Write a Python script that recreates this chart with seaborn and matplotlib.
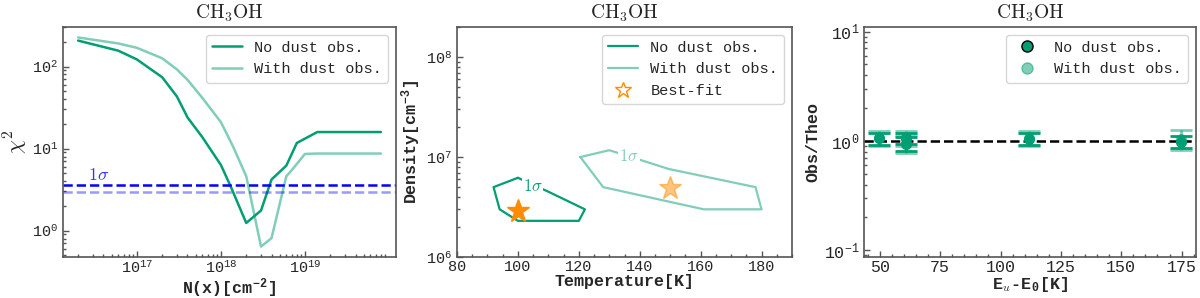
import numpy as np
import matplotlib
matplotlib.use("Agg")
import matplotlib.pyplot as plt
from matplotlib.lines import Line2D
from matplotlib.ticker import MultipleLocator
import seaborn as sns

# valeurs
col_dark = [2e16, 6e16, 1e17, 2e17, 3e17, 4e17, 6e17, 1e18, 1.3e18, 2e18, 3e18, 4e18, 6e18, 8e18, 1.4e19, 8e19]
chi2_dark = [207, 156, 122, 74, 43, 24, 13.8, 6.3, 3.5, 1.24, 1.76, 4.2, 6.2, 11.7, 15.9, 15.9]
col_light = [2e16, 6e16, 1e17, 2e17, 3e17, 4e17, 6e17, 1e18, 1.4e18, 2e18, 3e18, 4e18, 6e18, 7e18, 1e19, 1.4e19, 8e19]
chi2_light = [226, 191, 169, 126, 92, 69, 41.5, 21, 10.5, 4.6, 0.64, 0.81, 4.6, 5.5, 8.6, 8.7, 8.7]
sigma1_dark = 3.6
sigma1_light = 2.95

# contours 1 sigma (T, densite)
cont_T_dark = [100, 92, 94, 100, 120, 122, 110, 100]
cont_n_dark = [6.2e6, 5.0e6, 3.0e6, 2.3e6, 2.3e6, 3.0e6, 4.5e6, 6.2e6]
cont_T_light = [120.5, 130, 140, 149.5, 178, 180, 161, 128, 120.5]
cont_n_light = [1.0e7, 1.17e7, 9.4e6, 7.6e6, 5.0e6, 3.0e6, 3.0e6, 5.0e6, 1.0e7]
best_T = [100, 150]
best_n = [2.9e6, 4.9e6]

# rapports obs/theo
eu_dark = [49.7, 60.9, 60.9, 111.8, 174.7]
ratio_dark = [1.056, 1.056, 0.945, 1.05, 0.985]
err_dark = [0.135, 0.12, 0.135, 0.14, 0.125]
eu_light = [49.7, 60.9, 60.9, 111.8, 174.7]
ratio_light = [1.06, 1.07, 0.96, 1.07, 1.04]
err_light = [0.17, 0.165, 0.18, 0.17, 0.215]

green = "#029e73"
orange = "darkorange"

sns.set_style("white")
plt.rcParams["font.family"] = ["Liberation Mono", "DejaVu Sans"]
plt.rcParams["mathtext.fontset"] = "cm"
plt.rcParams["axes.edgecolor"] = "#555555"
plt.rcParams["axes.linewidth"] = 1.2
plt.rcParams["xtick.direction"] = "in"
plt.rcParams["ytick.direction"] = "in"
plt.rcParams["xtick.bottom"] = True
plt.rcParams["ytick.left"] = True
plt.rcParams["xtick.minor.visible"] = True
plt.rcParams["ytick.minor.visible"] = True
plt.rcParams["xtick.labelsize"] = 11
plt.rcParams["ytick.labelsize"] = 11
plt.rcParams["xtick.major.pad"] = 2
plt.rcParams["ytick.major.pad"] = 3.5

fig = plt.figure(figsize=(12, 2.98), dpi=100)
ax1 = fig.add_axes([63/1200, 41/298, 333/1200, 230/298])
ax2 = fig.add_axes([457/1200, 41/298, 335/1200, 230/298])
ax3 = fig.add_axes([864/1200, 41/298, 332/1200, 230/298])

title = r"$\mathrm{CH_3OH}$"

# --- chi2 vs N(x)
sns.lineplot(x=col_dark, y=chi2_dark, ax=ax1, color=green, lw=1.8, sort=False, estimator=None)
sns.lineplot(x=col_light, y=chi2_light, ax=ax1, color=green, alpha=0.5, lw=1.8, sort=False, estimator=None)
ax1.axhline(sigma1_dark, color="blue", ls="--", lw=1.8)
ax1.axhline(sigma1_light, color="blue", ls="--", lw=1.8, alpha=0.4)
ax1.set_xscale("log")
ax1.set_yscale("log")
ax1.set_xticks([1e17, 1e18, 1e19])
ax1.text(2.6e16, sigma1_dark * 1.03, r"$1\sigma$", color="blue", fontsize=13, va="bottom", alpha=0.8)
ax1.set_xlabel(r"N(x)[cm$^{\mathdefault{-2}}$]", fontsize=12, fontweight="bold", labelpad=0)
ax1.set_ylabel(r"$\chi^2$", fontsize=16, labelpad=1)
ax1.set_title(title, fontsize=14)
ax1.legend(handles=[Line2D([], [], color=green, lw=1.8),
                    Line2D([], [], color=green, alpha=0.5, lw=1.8)],
           labels=["No dust obs.", "With dust obs."], loc="upper right", fontsize=11)

# --- densite vs temperature
sns.lineplot(x=cont_T_dark, y=cont_n_dark, ax=ax2, color=green, lw=1.6, sort=False, estimator=None)
sns.lineplot(x=cont_T_light, y=cont_n_light, ax=ax2, color=green, alpha=0.5, lw=1.6, sort=False, estimator=None)
ax2.plot(best_T[0], best_n[0], marker="*", ms=17, color=orange, ls="none")
ax2.plot(best_T[1], best_n[1], marker="*", ms=17, color=orange, alpha=0.5, ls="none")
ax2.text(104.8, 5.1e6, r"$1\sigma$", color=green, fontsize=12, ha="center", va="center",
         bbox=dict(facecolor="white", edgecolor="none", pad=0.5))
ax2.text(136.5, 1.02e7, r"$1\sigma$", color="#80ceb9", fontsize=12, ha="center", va="center",
         bbox=dict(facecolor="white", edgecolor="none", pad=0.5))
ax2.set_yscale("log")
ax2.set_xlim(80, 190)
ax2.set_ylim(1e6, 2e8)
ax2.set_xlabel("Temperature[K]", fontsize=12, fontweight="bold", labelpad=0)
ax2.set_ylabel(r"Density[cm$^{\mathdefault{-3}}$]", fontsize=12, fontweight="bold", labelpad=2)
ax2.set_title(title, fontsize=14)
ax2.legend(handles=[Line2D([], [], color=green, lw=1.6),
                    Line2D([], [], color=green, alpha=0.5, lw=1.6),
                    Line2D([], [], marker="*", ms=12, mfc="none", mec=orange, ls="none")],
           labels=["No dust obs.", "With dust obs.", "Best-fit"], loc="upper right", fontsize=11)

# --- obs/theo
ax3.errorbar(eu_light, ratio_light, yerr=err_light, fmt="o", color=green, alpha=0.5,
             ms=7, elinewidth=2, capsize=8, capthick=2)
ax3.errorbar(eu_dark, ratio_dark, yerr=err_dark, fmt="o", color=green,
             ms=7, elinewidth=2, capsize=8, capthick=2)
ax3.axhline(1.0, color="black", ls="--", lw=1.8)
ax3.set_yscale("log")
ax3.set_ylim(0.087, 11)
ax3.xaxis.set_major_locator(MultipleLocator(25))
ax3.tick_params(labelsize=12)
ax3.set_xlabel(r"E$_u$-E$_\mathdefault{0}$[K]", fontsize=12, fontweight="bold", labelpad=0)
ax3.set_ylabel("Obs/Theo", fontsize=12, fontweight="bold", labelpad=2)
ax3.set_title(title, fontsize=14)
ax3.legend(handles=[Line2D([], [], marker="o", ms=8, mfc=green, mec="black", ls="none"),
                    Line2D([], [], marker="o", ms=8, mfc=green, mec=green, alpha=0.5, ls="none")],
           labels=["No dust obs.", "With dust obs."], loc="upper right", fontsize=11)

for ax in (ax1, ax2, ax3):
    ax.tick_params(which="major", length=4, width=1, color="#555555")
    ax.tick_params(which="minor", length=2, width=1, color="#555555")

fig.savefig("out.png", dpi=100)
